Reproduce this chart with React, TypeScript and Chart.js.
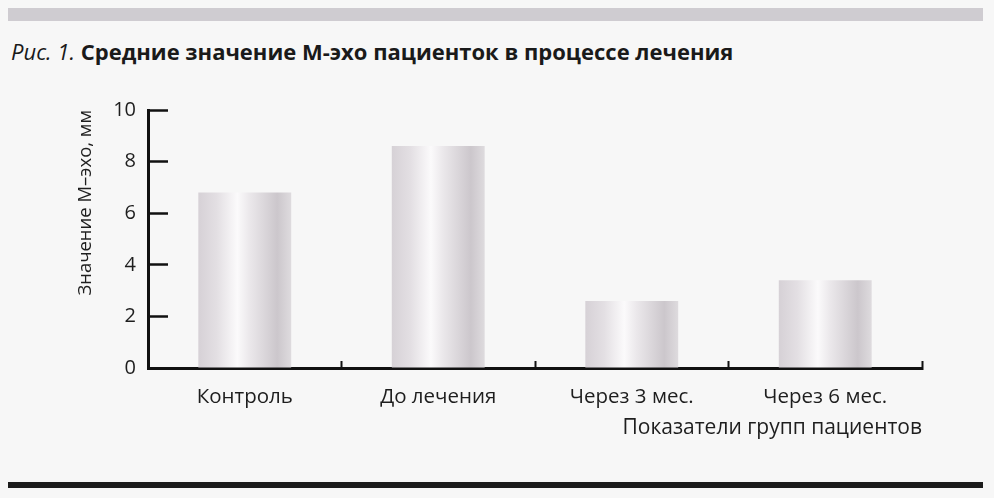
import { useEffect, useRef } from "react"
import { Chart, registerables } from "chart.js"

Chart.register(...registerables)

const categories = ["Контроль", "До лечения", "Через 3 мес.", "Через 6 мес."]
const echoValues = [6.8, 8.6, 2.6, 3.4]
const yTicks = [0, 2, 4, 6, 8, 10]

const FONT = "'Open Sans', 'Noto Sans', sans-serif"
const BAR_PCT = 0.48

function EchoChart() {
  const chartRef = useRef<HTMLCanvasElement>(null)
  const chartInstance = useRef<Chart | null>(null)

  useEffect(() => {
    if (!chartRef.current) return
    if (chartInstance.current) chartInstance.current.destroy()
    const ctx = chartRef.current.getContext("2d")
    if (!ctx) return

    chartInstance.current = new Chart(ctx, {
      type: "bar",
      data: {
        labels: categories,
        datasets: [
          {
            data: echoValues,
            // cylinder-like shading across each bar
            backgroundColor: (c: any) => {
              const xs = c.chart.scales?.x
              if (!xs || c.dataIndex === undefined) return "#dcd8dc"
              const mid = xs.getPixelForValue(c.dataIndex)
              const w = (xs.width / categories.length) * BAR_PCT
              if (!isFinite(mid) || !isFinite(w) || w <= 0) return "#dcd8dc"
              const g = c.chart.ctx.createLinearGradient(mid - w / 2, 0, mid + w / 2, 0)
              g.addColorStop(0, "#d6d1d6")
              g.addColorStop(0.2, "#e3dfe3")
              g.addColorStop(0.42, "#fbfafb")
              g.addColorStop(0.55, "#ebe8eb")
              g.addColorStop(0.85, "#ccc7cc")
              g.addColorStop(1, "#dedbde")
              return g
            },
            borderWidth: 0,
            barPercentage: BAR_PCT,
            categoryPercentage: 1,
          },
        ],
      },
      options: {
        animation: false,
        responsive: true,
        maintainAspectRatio: false,
        layout: { padding: { top: 0, right: 72, bottom: 0, left: 0 } },
        plugins: {
          legend: { display: false },
          tooltip: { enabled: false },
        },
        scales: {
          x: {
            offset: true,
            afterFit: (s: any) => {
              s.height = 82
            },
            grid: {
              offset: true,
              drawOnChartArea: false,
              tickLength: -7,
              tickWidth: 2,
              tickColor: "#111",
            },
            border: { color: "#111", width: 3 },
            ticks: {
              color: "#1e1e1e",
              padding: 24,
              font: { family: FONT, size: 20.5 },
            },
            title: {
              display: true,
              text: "Показатели групп пациентов",
              align: "end",
              color: "#1e1e1e",
              font: { family: FONT, size: 21 },
              padding: { top: 0, bottom: 9 },
            },
          },
          y: {
            min: 0,
            max: 10,
            afterFit: (s: any) => {
              s.width = 148
            },
            afterBuildTicks: (s: any) => {
              s.ticks = yTicks.map((v) => ({ value: v }))
            },
            grid: {
              drawOnChartArea: false,
              tickLength: -20,
              tickWidth: 2.5,
              tickColor: "#111",
            },
            border: { color: "#111", width: 3 },
            ticks: {
              color: "#1e1e1e",
              padding: 32,
              font: { family: FONT, size: 20 },
            },
            title: {
              display: true,
              text: "Значение М–эхо, мм",
              align: "end",
              color: "#1e1e1e",
              font: { family: FONT, size: 18.5 },
              padding: { top: 75, bottom: 0 },
            },
          },
        },
      },
    })

    return () => {
      if (chartInstance.current) {
        chartInstance.current.destroy()
        chartInstance.current = null
      }
    }
  }, [])

  return <canvas ref={chartRef} />
}

export default function App() {
  return (
    <div
      style={{
        position: "absolute",
        left: 0,
        top: 0,
        width: 994,
        height: 498,
        background: "#f7f7f7",
        fontFamily: FONT,
        overflow: "hidden",
      }}
    >
      <div style={{ position: "absolute", left: 8, top: 8, width: 975, height: 13, background: "#cfccd1" }} />
      <div
        style={{
          position: "absolute",
          left: 11,
          top: 36,
          fontSize: 22,
          color: "#1a1a1a",
          whiteSpace: "nowrap",
        }}
      >
        <span style={{ fontStyle: "italic" }}>Рис. 1.</span>
        <span style={{ fontWeight: 700 }}> Средние значение М-эхо пациенток в процессе лечения</span>
      </div>
      <div style={{ position: "absolute", left: 0, top: 66, width: 994, height: 384 }}>
        <EchoChart />
      </div>
      <div style={{ position: "absolute", left: 8, top: 482, width: 975, height: 6, background: "#1c1c1c" }} />
    </div>
  )
}
